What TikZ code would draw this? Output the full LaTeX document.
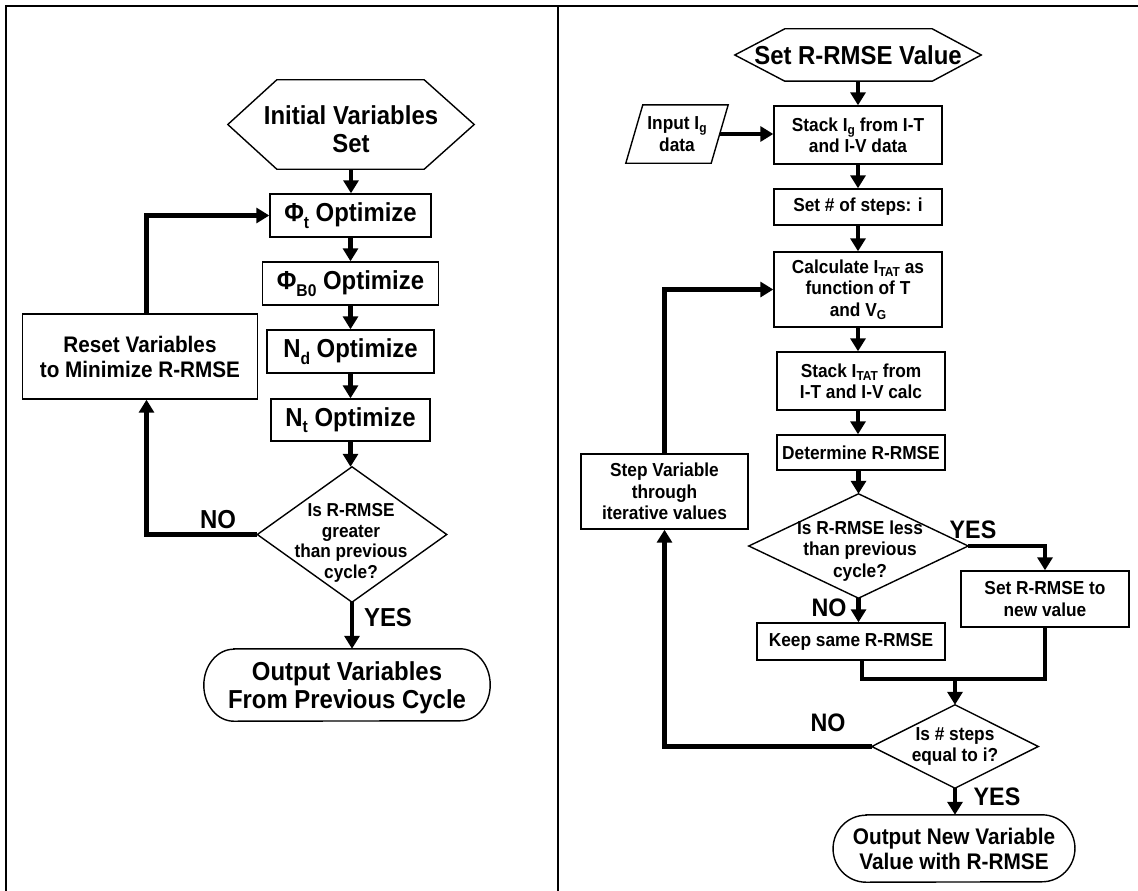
\documentclass[tikz,border=0pt]{standalone}
\usepackage{fontspec}
\setmainfont{Liberation Sans}[FakeStretch=0.92]
\usetikzlibrary{arrows.meta}
\newcommand\bigsub[1]{\raisebox{-6.5pt}{\fontsize{17}{17}\selectfont #1}}
\newcommand\medsub[1]{\raisebox{-3pt}{\fontsize{13}{13}\selectfont #1}}
\tikzset{
  box/.style={draw, line width=1.4pt, inner sep=0pt, align=center},
  shp/.style={inner sep=0pt, align=center},
  txt/.style={inner sep=0pt, align=center},
  outl/.style={line width=1.4pt},
  flow/.style={line width=4.4pt, -{Triangle[width=15pt,length=13pt]}},
  wire/.style={line width=4.4pt},
  big/.style={font=\fontsize{26}{28.5}\selectfont\bfseries},
  med/.style={font=\fontsize{18.8}{21.3}\selectfont\bfseries},
  dtxt/.style={font=\fontsize{18.7}{20.7}\selectfont\bfseries},
  rst/.style={font=\fontsize{22.5}{25}\selectfont\bfseries},
  trm/.style={font=\fontsize{22.6}{25}\selectfont\bfseries},
  lbl/.style={font=\fontsize{26}{28}\selectfont\bfseries, inner sep=0pt},
  lblr/.style={font=\fontsize{25.3}{28}\selectfont\bfseries, inner sep=0pt},
}
\begin{document}
\begin{tikzpicture}[x=1pt,y=-1pt]
\useasboundingbox (0,0) rectangle (1138,891);
% frame
\draw[line width=1.6pt] (6,891) -- (6,6) -- (1138,6);
\draw[line width=2pt] (558,6) -- (558,891);

% ---------------- left panel
\node[shp, minimum width=246pt, minimum height=89pt] (hex1) at (351,124.5) {};
\node[txt, big] (hex1t) at (351,129) {Initial Variables\\Set};
\draw[outl] (hex1.west) -- ([xshift=49pt]hex1.north west) -- ([xshift=-50pt]hex1.north east) -- (hex1.east) -- ([xshift=-50pt]hex1.south east) -- ([xshift=49pt]hex1.south west) -- cycle;
\node[box, big, minimum width=161pt, minimum height=43pt] (phit) at (350.5,215.5) {Φ\bigsub{t} Optimize};
\node[box, big, minimum width=176pt, minimum height=43pt] (phib) at (350.5,283.5) {Φ\bigsub{B0} Optimize};
\node[box, big, minimum width=167pt, minimum height=43pt] (nd) at (350.5,351.5) {N\bigsub{d} Optimize};
\node[box, big, minimum width=159pt, minimum height=42pt] (nt) at (350.5,420) {N\bigsub{t} Optimize};
\node[box, rst, minimum width=235pt, minimum height=85pt] (reset) at (140,356.5) {Reset Variables\\to Minimize R-RMSE};
\node[shp, minimum width=189pt, minimum height=135pt] (dg) at (352,534.5) {};
\node[txt, dtxt] (dgt) at (351,543) {Is R-RMSE\\greater\\than previous\\cycle?};
\draw[outl] (dg.north) -- (dg.east) -- (dg.south) -- (dg.west) -- cycle;
\node[shp, minimum width=286pt, minimum height=72pt] (out1) at (347,685) {};
\node[txt, big] (out1t) at (347,688) {Output Variables\\From Previous Cycle};
\draw[outl] ([xshift=30pt]out1.north west) -- ([xshift=-30pt]out1.north east)
  arc[start angle=90, end angle=-90, x radius=30pt, y radius=36pt]
  -- ([xshift=30pt]out1.south west)
  arc[start angle=270, end angle=90, x radius=30pt, y radius=36pt] -- cycle;
\node[lbl] (no1) at (218,520) {NO};
\node[lbl] (yes1) at (388,618) {YES};

\draw[flow] (hex1.south) -- (hex1.south |- phit.north);
\draw[flow] (phit.south) -- (phit.south |- phib.north);
\draw[flow] (phib.south) -- (phib.south |- nd.north);
\draw[flow] (nd.south) -- (nd.south |- nt.north);
\draw[flow] (nt.south) -- (nt.south |- dg.north);
\draw[flow] (dg.west) -| ([xshift=6.5pt]reset.south);
\draw[flow] ([xshift=6.5pt]reset.north) |- (phit.west);
\draw[flow] (dg.south) -- (dg.south |- out1.north);

% ---------------- right panel
\node[shp, big, minimum width=246pt, minimum height=52pt] (hex2) at (858,55) {Set R-RMSE Value};
\draw[outl] (hex2.west) -- ([xshift=50pt]hex2.north west) -- ([xshift=-49pt]hex2.north east) -- (hex2.east) -- ([xshift=-49pt]hex2.south east) -- ([xshift=50pt]hex2.south west) -- cycle;
\node[shp, med, minimum width=85pt, minimum height=58pt] (inp) at (677,134) {Input I\medsub{g}\\data};
\draw[outl] ([xshift=8.5pt]inp.north west) -- ([xshift=8.5pt]inp.north east) -- ([xshift=-8.5pt]inp.south east) -- ([xshift=-8.5pt]inp.south west) -- cycle;
\node[box, med, minimum width=168pt, minimum height=58pt] (stk1) at (858,135) {Stack I\medsub{g} from I-T\\and I-V data};
\node[box, med, minimum width=168pt, minimum height=36pt] (steps) at (858,207) {Set \# of steps: i};
\node[box, med, minimum width=168pt, minimum height=75pt] (calc) at (858,289.5) {Calculate I\medsub{TAT} as\\function of T\\and V\medsub{G}};
\node[box, med, minimum width=168pt, minimum height=58pt] (stk2) at (861,381) {Stack I\medsub{TAT} from\\I-T and I-V calc};
\node[box, med, minimum width=168pt, minimum height=35pt] (det) at (861,452.5) {Determine R-RMSE};
\node[box, med, minimum width=167pt, minimum height=75pt] (stepv) at (664.5,491.5) {Step Variable\\through\\iterative values};
\node[shp, minimum width=219pt, minimum height=104pt] (dl) at (858.5,546) {};
\node[txt, med] (dlt) at (860,551) {Is R-RMSE less\\than previous\\cycle?};
\draw[outl] (dl.north) -- (dl.east) -- (dl.south) -- (dl.west) -- cycle;
\node[box, med, minimum width=168pt, minimum height=56pt] (setb) at (1045,599) {Set R-RMSE to\\new value};
\node[box, med, minimum width=188pt, minimum height=37pt] (keep) at (851,641.5) {Keep same R-RMSE};
\node[shp, med, minimum width=166pt, minimum height=83pt] (de) at (955,746.5) {Is \# steps\\equal to i?};
\draw[outl] (de.north) -- (de.east) -- (de.south) -- (de.west) -- cycle;
\node[shp, trm, minimum width=241.5pt, minimum height=67pt] (out2) at (954,848.5) {Output New Variable\\Value with R-RMSE};
\draw[outl] ([xshift=33pt]out2.north west) -- ([xshift=-33pt]out2.north east)
  arc[start angle=90, end angle=-90, x radius=33pt, y radius=33.5pt]
  -- ([xshift=33pt]out2.south west)
  arc[start angle=270, end angle=90, x radius=33pt, y radius=33.5pt] -- cycle;
\node[lblr] (yesa) at (973,530) {YES};
\node[lblr] (noa) at (829,608) {NO};
\node[lblr] (nob) at (828,723) {NO};
\node[lblr] (yesb) at (997,797) {YES};
\coordinate (mj) at (955,679);

\draw[flow] (hex2.south) -- (hex2.south |- stk1.north);
\draw[flow] (inp.east) -- (inp.east -| stk1.west);
\draw[flow] (stk1.south) -- (stk1.south |- steps.north);
\draw[flow] (steps.south) -- (steps.south |- calc.north);
\draw[flow] (calc.south) -- (calc.south |- stk2.north);
\draw[flow] (calc.south |- stk2.south) -- (calc.south |- det.north);
\draw[flow] (dl.north |- det.south) -- (dl.north);
\draw[flow] (stepv.north) |- (calc.west);
\draw[flow] (dl.east) -| (setb.north);
\draw[flow] (dl.south) -- (dl.south |- keep.north);
\draw[wire] ([xshift=11pt]keep.south) |- (setb.south |- mj) -- (setb.south);
\draw[flow] (mj) -- (de.north);
\draw[flow] (de.west) -| (stepv.south);
\draw[flow] (de.south) -- (de.south |- out2.north);
\end{tikzpicture}
\end{document}
